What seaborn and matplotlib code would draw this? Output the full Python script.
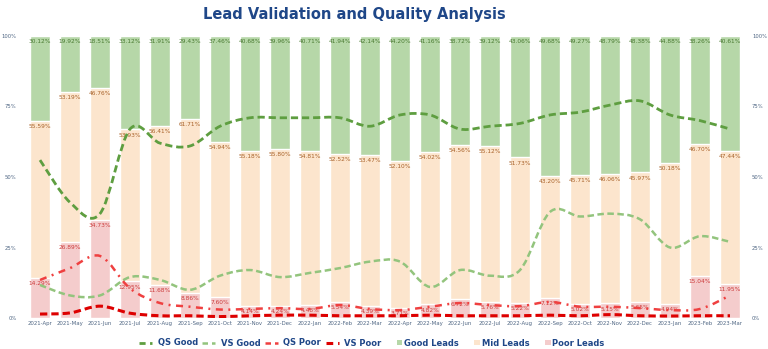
import numpy as np
import pandas as pd
import matplotlib
matplotlib.use("Agg")
import matplotlib.pyplot as plt
from matplotlib.path import Path
from matplotlib.patches import PathPatch, Patch, Rectangle
from matplotlib.lines import Line2D
from matplotlib.legend_handler import HandlerPatch
import seaborn as sns

months = ["2021-Apr", "2021-May", "2021-Jun", "2021-Jul", "2021-Aug", "2021-Sep",
          "2021-Oct", "2021-Nov", "2021-Dec", "2022-Jan", "2022-Feb", "2022-Mar",
          "2022-Apr", "2022-May", "2022-Jun", "2022-Jul", "2022-Aug", "2022-Sep",
          "2022-Oct", "2022-Nov", "2022-Dec", "2023-Jan", "2023-Feb", "2023-Mar"]

good_leads = [30.12, 19.92, 18.51, 33.12, 31.91, 29.43, 37.46, 40.68, 39.96, 40.71, 41.94, 42.14,
              44.20, 41.16, 38.72, 39.12, 43.06, 49.68, 49.27, 48.79, 48.38, 44.88, 38.26, 40.61]
mid_leads = [55.59, 53.19, 46.76, 53.93, 56.41, 61.71, 54.94, 55.18, 55.80, 54.81, 52.52, 53.47,
             52.10, 54.02, 54.56, 55.12, 51.73, 43.20, 45.71, 46.06, 45.97, 50.18, 46.70, 47.44]
poor_leads = [14.29, 26.89, 34.73, 12.95, 11.68, 8.86, 7.60, 4.14, 4.24, 4.48, 5.54, 4.39,
              3.71, 4.82, 6.72, 5.76, 5.22, 7.12, 5.02, 5.15, 5.65, 4.94, 15.04, 11.95]

qs_good = [56, 41, 37, 67, 62, 61, 68, 71, 71, 71, 71, 68,
           72, 72, 67, 68, 69, 72, 73, 75.5, 77, 72, 70, 67]
vs_good = [11.7, 8, 8, 14.5, 13.5, 10, 15, 17, 14.5, 16, 17.7, 20,
           20, 11, 17, 15, 17, 37.6, 36, 37, 35, 25, 29, 27]
qs_poor = [13.5, 17.7, 22, 10.5, 5.3, 4, 3, 3.2, 3.5, 3.2, 4.6, 3.2,
           2.8, 4, 5.3, 4.6, 4.2, 5.7, 4, 4, 3.5, 2.8, 3.2, 8]
vs_poor = [1.4, 1.8, 4.2, 1.7, 0.8, 0.8, 0.5, 0.8, 1.0, 1.0, 0.8, 0.8,
           0.8, 1.0, 0.8, 0.8, 0.8, 1.0, 0.8, 1.2, 0.8, 0.7, 0.8, 0.8]

C_GOOD, C_MID, C_POOR = "#b6d7a8", "#fce5cd", "#f4cccc"
T_GOOD, T_MID, T_POOR = "#4a7a32", "#a8622a", "#cc3b3b"
NAVY = "#1f4788"
TICK = "#506784"

sns.set_theme(style="white")
plt.rcParams["font.family"] = ["DejaVu Sans"]

df = pd.DataFrame({"month": months, "good": good_leads, "mid": mid_leads, "poor": poor_leads})
df["top_mid"] = df["poor"] + df["mid"]
df["top_good"] = df["top_mid"] + df["good"]

fig = plt.figure(figsize=(7.68, 3.49), dpi=100)
ax = fig.add_axes([25 / 768, 31 / 349, 720 / 768, 282 / 349])

sns.barplot(data=df, x="month", y="top_good", color=C_GOOD, saturation=1, width=0.67, ax=ax, zorder=1)
sns.barplot(data=df, x="month", y="top_mid", color=C_MID, saturation=1, width=0.67, ax=ax, zorder=2)
sns.barplot(data=df, x="month", y="poor", color=C_POOR, saturation=1, width=0.67, ax=ax, zorder=3)

ax.set_xlim(-0.5, len(months) - 0.5)
ax.set_ylim(0, 100)
ax.set_xlabel("")
ax.set_ylabel("")
ax.set_yticks([0, 25, 50, 75, 100])
ax.set_yticklabels(["0%", "25%", "50%", "75%", "100%"])
ax.tick_params(axis="y", length=0, pad=6, labelsize=3.8, labelcolor=TICK)
ax.tick_params(axis="x", length=0, pad=2, labelsize=3.9, labelcolor=TICK)
for s in ax.spines.values():
    s.set_visible(False)

off = 1.1
for i in range(len(months)):
    ax.text(i, df["top_good"][i] - off, f"{good_leads[i]:.2f}%", ha="center", va="top",
            fontsize=4.2, color=T_GOOD, zorder=5)
    ax.text(i, df["top_mid"][i] - off, f"{mid_leads[i]:.2f}%", ha="center", va="top",
            fontsize=4.2, color=T_MID, zorder=5)
    ax.text(i, poor_leads[i] - off, f"{poor_leads[i]:.2f}%", ha="center", va="top",
            fontsize=4.2, color=T_POOR, zorder=5)

ax2 = ax.twinx()
ax2.set_ylim(0, 100)
ax2.set_yticks([0, 25, 50, 75, 100])
ax2.set_yticklabels(["0%", "25%", "50%", "75%", "100%"])
ax2.tick_params(axis="y", length=0, pad=5, labelsize=3.8, labelcolor=TICK)
ax2.grid(False)
for s in ax2.spines.values():
    s.set_visible(False)


def smooth_path(xs, ys, k=1.0):
    pts = np.column_stack([xs, ys]).astype(float)
    n = len(pts)
    verts = [pts[0]]
    codes = [Path.MOVETO]
    for i in range(n - 1):
        p0 = pts[i - 1] if i > 0 else pts[i]
        p1 = pts[i]
        p2 = pts[i + 1]
        p3 = pts[i + 2] if i + 2 < n else pts[i + 1]
        c1 = p1 + (p2 - p0) * k / 6
        c2 = p2 - (p3 - p1) * k / 6
        verts += [c1, c2, p2]
        codes += [Path.CURVE4] * 3
    return Path(verts, codes)


xs = np.arange(len(months))
series = [
    ("QS Good", qs_good, "#5e9e40", 2.0, (0, (2.6, 1.4))),
    ("VS Good", vs_good, "#93c47d", 1.8, (0, (2.6, 1.4))),
    ("QS Poor", qs_poor, "#ef4040", 1.8, (0, (2.8, 2.2, 0.8, 2.2))),
    ("VS Poor", vs_poor, "#dd0000", 2.2, (0, (2.4, 1.3))),
]
handles = []
for name, vals, col, lw, ls in series:
    ax2.add_patch(PathPatch(smooth_path(xs, vals), fill=False, edgecolor=col, lw=lw,
                            linestyle=ls, capstyle="butt", zorder=6))
    handles.append(Line2D([], [], color=col, lw=lw, linestyle=(0, (2.2, 1.6)), label=name))

for name, col in [("Good Leads", C_GOOD), ("Mid Leads", C_MID), ("Poor Leads", C_POOR)]:
    handles.append(Patch(facecolor=col, edgecolor="none", label=name))


def small_square(legend, orig_handle, xdescent, ydescent, width, height, fontsize):
    s = 4.0
    return Rectangle((-xdescent + width - s + 2.5, -ydescent + (height - s) / 2), s, s)


leg = fig.legend(handles=handles, loc="center", bbox_to_anchor=(372 / 768, 6 / 349), ncol=7,
                 frameon=False, handlelength=1.55, handleheight=0.7, columnspacing=0.55,
                 handletextpad=0.65, prop={"weight": "bold", "size": 6.0},
                 handler_map={Patch: HandlerPatch(patch_func=small_square)})
for t in leg.get_texts():
    t.set_color(NAVY)

fig.text(354.5 / 768, 1 - 15 / 349, "Lead Validation and Quality Analysis", ha="center", va="center",
         fontsize=10.5, fontweight="bold", color=NAVY)

fig.savefig("out.png", dpi=100, facecolor="white")
